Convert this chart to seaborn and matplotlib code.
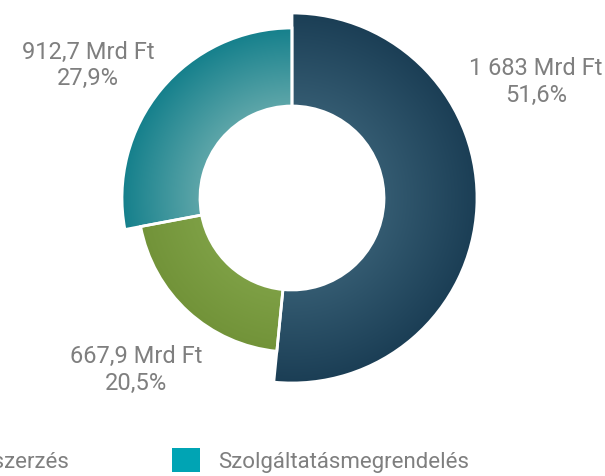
import numpy as np
import matplotlib.pyplot as plt
import seaborn as sns
from matplotlib.patches import Patch

# data
categories = ['Építési beruházás', 'Árubeszerzés', 'Szolgáltatásmegrendelés']
values = [1683, 667.9, 912.7]
value_labels = ['1 683 Mrd Ft', '667,9 Mrd Ft', '912,7 Mrd Ft']
share_labels = ['51,6%', '20,5%', '27,9%']

# styling
outer_radius = [185 / 170, 154 / 170, 1.0]
inner_cols = ['#345b71', '#7ea045', '#5ea6a9']
outer_cols = ['#1b3e55', '#729339', '#15808c']
legend_cols = ['#1f4a63', '#789b3f', '#00a4b4']
text_col = '#7f7f7f'

sns.set_theme(style='white')
plt.rcParams['font.family'] = ['Roboto', 'DejaVu Sans']

fig = plt.figure(figsize=(6.05, 4.77), dpi=100)
ax = fig.add_axes([0, 0, 1, 1])

r_in = 92 / 170
wedges, _ = ax.pie(values, startangle=90, counterclock=False, radius=1.0,
                   wedgeprops=dict(width=1.0 - r_in, edgecolor='white', linewidth=2))
# every slice has its own outer radius
for w, r in zip(wedges, outer_radius):
    w.set_radius(r)
    w.set_width(r - r_in)

# radial gradient fill, clipped to each wedge
g = np.linspace(-1.15, 1.15, 600)
X, Y = np.meshgrid(g, g)
R = np.hypot(X, Y)
for w, ci, co in zip(wedges, inner_cols, outer_cols):
    t = np.clip((R - r_in) / (w.r - r_in), 0, 1)[..., None]
    a = np.array(sns.color_palette([ci])[0])
    b = np.array(sns.color_palette([co])[0])
    img = a * (1 - t) + b * t
    im = ax.imshow(img, extent=(-1.15, 1.15, -1.15, 1.15), origin='lower',
                   zorder=1, interpolation='bilinear')
    im.set_clip_path(w)
    w.set_facecolor('none')
    w.set_zorder(2)

ax.set_aspect('auto')
ax.set_xlim(-292 / 170, 313 / 170)
ax.set_ylim(-278 / 170, 199 / 170)
ax.axis('off')

# value labels
label_pos = [(1.435, 0.69), (-0.918, -1.007), (-1.20, 0.785)]
for (x, y), v, s in zip(label_pos, value_labels, share_labels):
    ax.text(x, y, v + '\n' + s, ha='center', va='center', fontsize=17,
            fontweight='normal', color=text_col, linespacing=1.2)

handles = [Patch(facecolor=c, edgecolor='none') for c in legend_cols]
fig.legend(handles, categories, loc='lower right', bbox_to_anchor=(469 / 605, 0.008),
           ncol=3, frameon=False, handlelength=1.26, handleheight=1.26,
           handletextpad=0.8, columnspacing=4.6, borderpad=0, borderaxespad=0,
           labelcolor=text_col, prop=dict(size=16, weight='normal'))

fig.savefig('out.png', dpi=100)
